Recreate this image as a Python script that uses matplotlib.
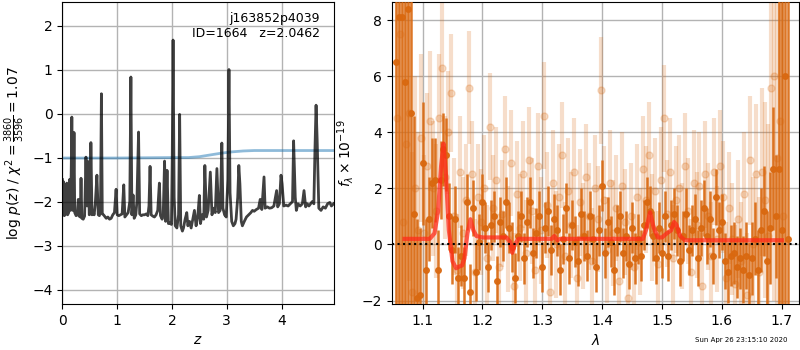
import numpy as np
import matplotlib
matplotlib.use("Agg")
import matplotlib.pyplot as plt

# p(z) curve
z_grid = [0.000, 0.008, 0.020, 0.035, 0.060, 0.080, 0.095, 0.115, 0.130, 0.145,
          0.160, 0.172, 0.188, 0.200, 0.212, 0.225, 0.250, 0.270, 0.290, 0.305,
          0.325, 0.340, 0.355, 0.380, 0.405, 0.430, 0.450, 0.470, 0.490, 0.505,
          0.520, 0.540, 0.560, 0.580, 0.600, 0.630, 0.655, 0.675, 0.695, 0.712,
          0.728, 0.750, 0.780, 0.800, 0.830, 0.860, 0.890, 0.920, 0.950, 0.980,
          1.000, 1.030, 1.060, 1.090, 1.120, 1.140, 1.170, 1.200, 1.230, 1.250,
          1.268, 1.290, 1.310, 1.340, 1.360, 1.390, 1.410, 1.440, 1.470, 1.500,
          1.530, 1.560, 1.580, 1.600, 1.620, 1.650, 1.680, 1.710, 1.740, 1.770,
          1.790, 1.820, 1.840, 1.865, 1.885, 1.910, 1.935, 1.960, 1.990, 2.005,
          2.020, 2.040, 2.060, 2.090, 2.120, 2.140, 2.160, 2.190, 2.210, 2.240,
          2.270, 2.290, 2.320, 2.350, 2.380, 2.410, 2.440, 2.470, 2.500, 2.520,
          2.550, 2.580, 2.600, 2.630, 2.660, 2.700, 2.730, 2.760, 2.790, 2.820,
          2.850, 2.880, 2.910, 2.930, 2.960, 2.990, 3.020, 3.040, 3.060, 3.090,
          3.120, 3.150, 3.170, 3.200, 3.220, 3.240, 3.265, 3.285, 3.320, 3.360,
          3.400, 3.440, 3.470, 3.500, 3.540, 3.580, 3.610, 3.640, 3.680, 3.700,
          3.740, 3.780, 3.820, 3.860, 3.910, 3.930, 3.960, 3.990, 4.010, 4.040,
          4.080, 4.120, 4.160, 4.200, 4.220, 4.250, 4.270, 4.300, 4.340, 4.380,
          4.410, 4.440, 4.470, 4.500, 4.530, 4.560, 4.590, 4.610, 4.630, 4.650,
          4.680, 4.720, 4.760, 4.800, 4.840, 4.880, 4.910, 4.950]
logpz = [-1.50, -2.30, -1.55, -2.32, -2.28, -1.58, -2.30, -2.25, -1.50, -2.20,
         -1.40, -0.08, -2.20, -1.90, -0.43, -2.25, -2.32, -2.30, -1.95, -2.33,
         -2.35, -1.47, -2.38, -2.40, -2.33, -0.99, -2.10, -1.09, -2.30, -2.28,
         -0.66, -2.30, -2.25, -2.30, -2.05, -1.40, -2.30, -2.32, -2.20, 0.45,
         -2.28, -2.30, -2.35, -2.38, -2.35, -2.40, -2.38, -2.30, -2.25, -1.72,
         -2.30, -2.32, -2.30, -2.28, -1.62, -2.35, -2.30, -2.25, -2.00, 0.83,
         -2.30, -1.85, -2.38, -2.30, -2.00, -0.42, -2.28, -2.32, -2.30, -2.30,
         -2.28, -2.32, -2.10, -1.20, -2.30, -2.33, -2.35, -2.30, -2.20, -1.58,
         -2.32, -2.40, -2.30, -1.08, -2.45, -1.29, -2.50, -2.48, -2.52, -1.00,
         1.67, -1.90, -2.55, -2.60, -2.30, -0.02, -2.55, -2.67, -2.60, -2.40,
         -2.25, -2.55, -2.45, -2.60, -2.40, -2.20, -2.55, -2.35, -1.86, -2.50,
         -2.30, -2.40, -1.18, -2.35, -2.20, -1.33, -2.30, -2.15, -2.25, -1.25,
         -2.25, -2.20, -0.67, -2.15, -2.30, -2.35, -1.50, 1.00, -1.80, -2.45,
         -2.55, -2.50, -2.40, -1.90, -1.18, -1.60, -2.45, -2.55, -2.45, -2.35,
         -2.30, -2.25, -2.20, -2.22, -2.18, -2.15, -1.95, -2.18, -1.44, -2.15,
         -2.12, -2.15, -2.14, -2.10, -1.75, -2.12, -2.05, -1.40, -1.60, -2.10,
         -2.08, -2.10, -2.05, -2.00, -0.62, -1.90, -2.20, -2.05, -2.10, -2.05,
         -1.75, -2.12, -2.05, -2.10, -2.05, -2.00, -2.05, -0.80, 0.19, -0.60,
         -2.15, -2.20, -2.12, -2.15, -2.05, -2.02, -2.10, -2.05]

# prior curve
z_prior = [0.0, 1.0, 2.0, 2.3, 2.5, 2.7, 2.9, 3.1, 3.3, 3.5, 3.8, 4.2, 4.95]
log_prior = [-1.01, -1.01, -1.00, -1.00, -0.98, -0.94, -0.90, -0.87, -0.85, -0.84, -0.84, -0.84, -0.84]

# spectrum, beam 1 (dark)
wave1 = [1.055, 1.060, 1.065, 1.070, 1.075, 1.080, 1.085, 1.090, 1.095, 1.100,
         1.105, 1.110, 1.115, 1.120, 1.125, 1.130, 1.135, 1.140, 1.145, 1.150,
         1.155, 1.160, 1.165, 1.170, 1.175, 1.180, 1.185, 1.190, 1.195, 1.200,
         1.205, 1.210, 1.215, 1.220, 1.225, 1.230, 1.235, 1.240, 1.245, 1.250,
         1.255, 1.260, 1.265, 1.270, 1.275, 1.280, 1.285, 1.290, 1.295, 1.300,
         1.305, 1.310, 1.315, 1.320, 1.325, 1.330, 1.335, 1.340, 1.345, 1.350,
         1.355, 1.360, 1.365, 1.370, 1.375, 1.380, 1.385, 1.390, 1.395, 1.400,
         1.405, 1.410, 1.415, 1.420, 1.425, 1.430, 1.435, 1.440, 1.445, 1.450,
         1.455, 1.460, 1.465, 1.470, 1.475, 1.480, 1.485, 1.490, 1.495, 1.500,
         1.505, 1.510, 1.515, 1.520, 1.525, 1.530, 1.535, 1.540, 1.545, 1.550,
         1.555, 1.560, 1.565, 1.570, 1.575, 1.580, 1.585, 1.590, 1.595, 1.600,
         1.605, 1.610, 1.615, 1.620, 1.625, 1.630, 1.635, 1.640, 1.645, 1.650,
         1.655, 1.660, 1.665, 1.670, 1.675, 1.680, 1.685, 1.690, 1.695, 1.700,
         1.705, 1.710]
flux1 = [6.5, 8.1, 8.1, 5.8, 8.4, 4.7, 1.1, -1.9, -1.8, 2.9,
         -0.9, 0.9, 2.2, 2.3, -0.9, 2.3, 3.4, 3.2, 1.0, -0.2,
         0.9, -1.2, -0.4, -1.2, 1.5, -1.7, 1.3, -1.0, 0.1, 1.5,
         0.6, -0.8, 0.7, 1.0, -1.3, 0.8, 0.3, 1.5, 0.6, -0.1,
         -1.2, 0.3, 1.0, -0.5, 0.8, 1.5, -0.3, 0.4, 1.0, -0.8,
         0.6, 1.2, -0.2, 0.9, 0.5, -0.9, 0.2, 1.3, -0.5, 0.7,
         0.1, -0.6, 1.1, 0.3, -0.4, 1.0, 0.2, -0.8, 0.5, 2.1,
         -0.3, 0.8, 0.1, -0.9, 0.5, 1.0, -0.3, 0.3, -0.7, 0.6,
         -0.5, 0.2, -0.4, 0.7, 1.5, 1.2, 0.3, -0.5, 0.6, -0.3,
         1.0, -0.4, 0.7, 1.1, 0.5, -0.6, 0.3, 1.1, -0.2, 0.5,
         0.9, -0.5, 0.6, 1.3, 0.3, 0.9, -0.4, 1.7, 0.5, 0.8,
         -0.6, -1.0, -0.4, -0.3, -0.8, -0.5, -0.9, -0.4, -1.1, -0.5,
         0.2, -0.9, 0.5, 1.2, -0.6, 0.6, 2.7, 1.0, 2.7, 0.5,
         6.0, 0.2]
err1 = [30, 30, 25, 12, 30, 8, 3.5, 2.8, 2.4, 2.2,
        1.8, 1.5, 1.6, 1.5, 1.4, 1.4, 1.3, 1.3, 1.2, 1.2,
        1.2, 1.1, 1.1, 1.1, 1.0, 1.0, 1.0, 1.0, 1.0, 1.0,
        0.9, 0.9, 0.9, 0.9, 0.9, 0.9, 0.9, 0.9, 0.9, 0.9,
        0.9, 0.9, 0.9, 0.9, 0.9, 0.9, 0.9, 0.9, 0.9, 0.9,
        0.9, 0.9, 0.9, 0.9, 0.9, 0.9, 0.9, 0.9, 0.9, 0.9,
        0.9, 0.9, 0.9, 0.9, 0.9, 0.9, 0.9, 0.9, 0.9, 0.9,
        0.9, 0.9, 0.9, 0.9, 0.9, 0.9, 0.9, 0.9, 0.9, 0.9,
        0.9, 0.9, 0.9, 0.9, 0.9, 0.9, 0.9, 0.9, 0.9, 0.9,
        0.9, 0.9, 0.9, 0.9, 0.9, 0.9, 0.9, 0.9, 0.9, 0.9,
        0.9, 1.0, 1.0, 1.0, 1.0, 1.0, 1.0, 1.0, 1.0, 1.0,
        1.0, 1.1, 1.1, 1.1, 1.1, 1.1, 1.2, 1.2, 1.2, 1.3,
        1.3, 1.4, 1.5, 1.6, 1.8, 2.0, 2.2, 2.2, 8.0, 15.0,
        25.0, 20.0]

# spectrum, beam 2 (light)
wave2 = [1.0575, 1.0625, 1.0675, 1.0725, 1.0775, 1.0825, 1.0875, 1.0925, 1.0975, 1.1025,
         1.1075, 1.1125, 1.1175, 1.1225, 1.1275, 1.1325, 1.1375, 1.1425, 1.1475, 1.1525,
         1.1575, 1.1625, 1.1675, 1.1725, 1.1775, 1.1825, 1.1875, 1.1925, 1.1975, 1.2025,
         1.2075, 1.2125, 1.2175, 1.2225, 1.2275, 1.2325, 1.2375, 1.2425, 1.2475, 1.2525,
         1.2575, 1.2625, 1.2675, 1.2725, 1.2775, 1.2825, 1.2875, 1.2925, 1.2975, 1.3025,
         1.3075, 1.3125, 1.3175, 1.3225, 1.3275, 1.3325, 1.3375, 1.3425, 1.3475, 1.3525,
         1.3575, 1.3625, 1.3675, 1.3725, 1.3775, 1.3825, 1.3875, 1.3925, 1.3975, 1.4025,
         1.4075, 1.4125, 1.4175, 1.4225, 1.4275, 1.4325, 1.4375, 1.4425, 1.4475, 1.4525,
         1.4575, 1.4625, 1.4675, 1.4725, 1.4775, 1.4825, 1.4875, 1.4925, 1.4975, 1.5025,
         1.5075, 1.5125, 1.5175, 1.5225, 1.5275, 1.5325, 1.5375, 1.5425, 1.5475, 1.5525,
         1.5575, 1.5625, 1.5675, 1.5725, 1.5775, 1.5825, 1.5875, 1.5925, 1.5975, 1.6025,
         1.6075, 1.6125, 1.6175, 1.6225, 1.6275, 1.6325, 1.6375, 1.6425, 1.6475, 1.6525,
         1.6575, 1.6625, 1.6675, 1.6725, 1.6775, 1.6825, 1.6875, 1.6925, 1.6975, 1.7025]
flux2 = [4.5, 7.5, 0.8, 3.6, 4.7, -1.7, 2.0, 0.5, 3.8, 0.4,
         2.8, 4.4, 2.0, 1.2, 4.5, 6.3, 2.4, 4.0, 5.4, 1.0,
         -0.9, 2.6, 0.4, 1.6, 5.6, 2.5, -1.0, 1.7, 0.8, 2.0,
         -0.5, 4.2, 1.3, 2.3, -0.8, 1.1, 3.4, 0.2, 2.9, -1.5,
         1.8, 0.6, 2.5, -0.3, 3.0, 1.2, -0.9, 2.8, 0.5, 4.6,
         1.4, -1.7, 2.2, 0.0, 1.7, 3.2, -0.4, 1.9, 0.7, 2.6,
         -1.2, 1.5, 0.3, 2.4, 1.0, -0.6, 2.0, 0.9, 5.5, 1.6,
         -0.2, 2.2, 0.4, 1.3, -1.3, 2.1, 0.8, -1.9, 1.0, -0.8,
         1.7, 0.1, 2.7, 1.6, 3.2, 0.6, 1.9, -0.7, 2.3, 4.5,
         1.1, 2.6, -0.5, 1.6, 2.0, 0.3, 2.8, 1.2, -1.0, 2.2,
         0.7, 2.1, -1.5, 2.5, 1.0, -0.4, 2.6, 0.2, 2.8, 1.7,
         -1.2, 1.3, 0.2, -1.4, 0.9, -0.6, 1.8, -1.8, 3.0, 0.0,
         2.5, -1.0, 2.6, 1.6, 0.3, 5.6, 6.0, 3.1, 4.4, 1.0]
err2 = [15, 15, 10, 8, 6, 5, 4, 3.5, 3, 2.8,
        2.6, 2.5, 2.4, 2.4, 2.3, 2.3, 2.2, 2.2, 2.1, 2.1,
        2.0, 2.0, 2.0, 2.0, 2.0, 1.9, 1.9, 1.9, 1.9, 1.9,
        1.9, 1.9, 1.9, 1.9, 1.9, 1.9, 1.9, 1.9, 1.9, 1.9,
        1.9, 1.9, 1.9, 1.9, 1.9, 1.9, 1.9, 1.9, 1.9, 1.9,
        1.9, 1.9, 1.9, 1.9, 1.9, 1.9, 1.9, 1.9, 1.9, 1.9,
        1.9, 1.9, 1.9, 1.9, 1.9, 1.9, 1.9, 1.9, 1.9, 1.9,
        1.9, 1.9, 1.9, 1.9, 1.9, 1.9, 1.9, 1.9, 1.9, 1.9,
        1.9, 1.9, 1.9, 1.9, 1.9, 1.9, 1.9, 1.9, 1.9, 1.9,
        1.9, 1.9, 1.9, 1.9, 1.9, 1.9, 1.9, 1.9, 1.9, 1.9,
        1.9, 1.9, 1.9, 1.9, 1.9, 1.9, 1.9, 1.9, 2.0, 2.0,
        2.0, 2.0, 2.0, 2.1, 2.1, 2.1, 2.2, 2.2, 2.3, 2.4,
        2.5, 2.7, 3.0, 3.5, 4.0, 5.0, 8.0, 10.0, 15.0, 12.0]

# best-fit model
wave_model = [1.070, 1.112, 1.120, 1.126, 1.131, 1.135, 1.139, 1.144, 1.150, 1.156,
              1.160, 1.166, 1.170, 1.175, 1.180, 1.185, 1.190, 1.200, 1.220, 1.240,
              1.246, 1.250, 1.254, 1.260, 1.300, 1.316, 1.320, 1.325, 1.330, 1.400,
              1.468, 1.473, 1.480, 1.486, 1.493, 1.500, 1.508, 1.515, 1.520, 1.524,
              1.530, 1.538, 1.560, 1.620, 1.700]
flux_model = [0.2, 0.2, 0.4, 1.2, 2.8, 3.6, 2.5, 0.5, -0.6, -0.85,
              -0.8, -0.75, -0.5, 0.4, 0.9, 0.5, 0.3, 0.25, 0.25, 0.25,
              0.1, -0.3, 0.0, 0.2, 0.2, 0.2, 0.3, 0.15, 0.2, 0.2,
              0.2, 0.5, 1.15, 0.6, 0.25, 0.25, 0.4, 0.5, 0.8, 0.7,
              0.3, 0.15, 0.15, 0.15, 0.15]

obj_root = "j163852p4039"
obj_id = 1664
z_best = 2.0462
chi2_label = r"log $p(z)$ / $\chi^2=\frac{3860}{3596}=1.07$"
stamp = "Sun Apr 26 23:15:10 2020"

orange = "#d9680f"

fig = plt.figure(figsize=(8, 3.5), dpi=100)
ax1 = fig.add_axes([0.078, 0.131, 0.339, 0.864])
ax2 = fig.add_axes([0.490, 0.131, 0.509, 0.864])

# left: redshift probability
ax1.plot(z_prior, log_prior, color="tab:blue", alpha=0.5, lw=2)
ax1.plot(z_grid, logpz, color="k", alpha=0.75, lw=2)
ax1.text(0.95, 0.965, f"{obj_root}\nID={obj_id}   z={z_best:.4f}",
         transform=ax1.transAxes, ha="right", va="top", fontsize=9)
ax1.set_xlim(0, 4.95)
ax1.set_ylim(-4.33, 2.54)
ax1.set_xlabel("$z$")
ax1.set_ylabel(chi2_label)
ax1.grid(color="0.7", lw=1)
ax1.set_axisbelow(True)

# right: 1D spectrum
ax2.errorbar(wave2, flux2, yerr=err2, color=orange, alpha=0.22, marker="o",
             markersize=5, linestyle="None", elinewidth=3, zorder=2)
ax2.errorbar(wave1, flux1, yerr=err1, color=orange, alpha=0.9, marker="o",
             markersize=4, linestyle="None", elinewidth=1.8, zorder=3)
ax2.plot(wave_model, flux_model, color="#ff2a1a", alpha=0.75, lw=3, zorder=4)
ax2.axhline(0, color="k", ls=":", lw=1.5, zorder=5)
ax2.set_xlim(1.049, 1.729)
ax2.set_ylim(-2.13, 8.66)
ax2.set_xticks([1.1, 1.2, 1.3, 1.4, 1.5, 1.6, 1.7])
ax2.set_yticks([-2, 0, 2, 4, 6, 8])
ax2.set_xlabel(r"$\lambda$")
ax2.set_ylabel(r"$f_\lambda\times10^{-19}$")
ax2.grid(color="0.7", lw=1)
ax2.set_axisbelow(True)

fig.text(0.984, 0.029, stamp, fontsize=5, ha="right", va="center")

fig.savefig("out.png", dpi=100)
